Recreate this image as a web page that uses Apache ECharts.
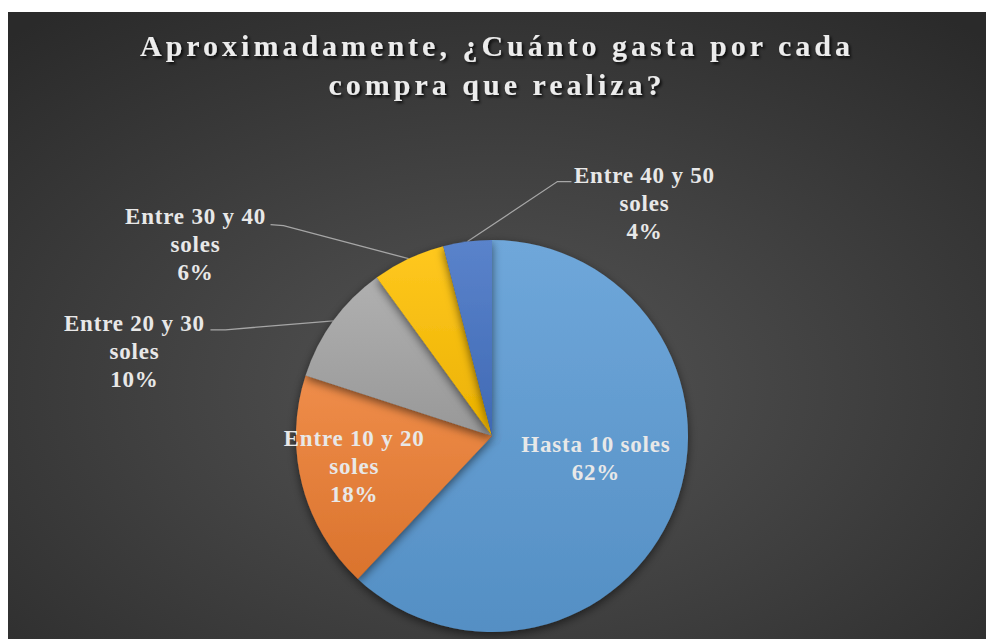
<!DOCTYPE html>
<html>
<head>
<meta charset="utf-8">
<script src="https://cdn.jsdelivr.net/npm/echarts@6/dist/echarts.min.js"></script>
<style>
  html, body { margin: 0; padding: 0; background: #ffffff; width: 986px; height: 639px; overflow: hidden; }
  #chart { position: absolute; left: 8px; top: 12px; width: 978px; height: 627px; }
  /* spaced-out serif title, slightly tracked labels */
  #chart text[style*="30px"] { letter-spacing: 4px; }
  #chart text[style*="23px"] { letter-spacing: 0.8px; }
</style>
</head>
<body>
<div id="chart"></div>
<script>
// ---- data ----
const titleLines = ['Aproximadamente, ¿Cuánto gasta por cada', 'compra que realiza?'];
const categories = ['Hasta 10 soles', 'Entre 10 y 20 soles', 'Entre 20 y 30 soles', 'Entre 30 y 40 soles', 'Entre 40 y 50 soles'];
const shares = [62, 18, 10, 6, 4];

// ---- styling ----
const sliceColors = ['#5B9BD5', '#ED7D31', '#A5A5A5', '#FFC000', '#4472C4'];

// label placement: inside labels are nudged, outside labels sit relative to
// the point where the leader line leaves the slice edge
const labelPlacement = {
  'Hasta 10 soles':      { inside: true, dx: 10, dy: -15 },
  'Entre 10 y 20 soles': { inside: true, dx: -40, dy: 5 },
  'Entre 20 y 30 soles': { label: [-199, 31], bend: [-108, 9], end: [-123, 9] },
  'Entre 30 y 40 soles': { label: [-213, -14], bend: [-125, -33], end: [-138, -34] },
  'Entre 40 y 50 soles': { label: [177, -38], bend: [90, -60], end: [104, -60] }
};

function shade(hex, amt) {
  const n = parseInt(hex.slice(1), 16);
  const ch = [(n >> 16) & 255, (n >> 8) & 255, n & 255].map(function (c) {
    const v = amt >= 0 ? c + (255 - c) * amt : c * (1 + amt);
    return Math.max(0, Math.min(255, Math.round(v)));
  });
  return 'rgb(' + ch.join(',') + ')';
}

function wrapName(name) {
  // two-line category names: break before the final word
  if (name.length <= 14) return name;
  const i = name.lastIndexOf(' ');
  return name.slice(0, i) + '\n' + name.slice(i + 1);
}

const pieData = categories.map(function (name, i) {
  const place = labelPlacement[name];
  const item = {
    name: name,
    value: shares[i],
    itemStyle: {
      color: new echarts.graphic.LinearGradient(0, 0, 0, 1, [
        { offset: 0, color: shade(sliceColors[i], 0.12) },
        { offset: 1, color: shade(sliceColors[i], -0.08) }
      ])
    }
  };
  if (place.inside) {
    item.label = { position: 'inside' };
    item.labelLine = { show: false };
  }
  return item;
});

const chart = echarts.init(document.getElementById('chart'), null, { renderer: 'svg' });

chart.setOption({
  backgroundColor: {
    type: 'radial', x: 0.5, y: 0.6, r: 0.75,
    colorStops: [
      { offset: 0, color: '#555555' },
      { offset: 1, color: '#2a2a2a' }
    ]
  },
  title: {
    text: titleLines.join('\n'),
    left: 'center',
    top: 9,
    textStyle: {
      fontFamily: '"Liberation Serif", "Times New Roman", serif',
      fontWeight: 'bold',
      fontSize: 30,
      lineHeight: 39,
      color: '#ececec',
      textShadowColor: 'rgba(0,0,0,0.8)',
      textShadowBlur: 3,
      textShadowOffsetX: 2,
      textShadowOffsetY: 2
    }
  },
  series: [{
    type: 'pie',
    center: [484, 424],
    radius: 196,
    startAngle: 90,
    clockwise: true,
    avoidLabelOverlap: false,
    percentPrecision: 0,
    animation: false,
    data: pieData,
    itemStyle: {
      shadowBlur: 10,
      shadowColor: 'rgba(0,0,0,0.55)',
      shadowOffsetY: 3
    },
    label: {
      show: true,
      position: 'outside',
      formatter: function (p) { return wrapName(p.name) + '\n' + p.percent + '%'; },
      fontFamily: '"Liberation Serif", "Times New Roman", serif',
      fontWeight: 'bold',
      fontSize: 23,
      lineHeight: 28,
      align: 'center',
      color: '#e8e8e8'
    },
    labelLine: {
      show: true,
      lineStyle: { color: '#a6a6a6', width: 1.3 }
    },
    labelLayout: function (params) {
      const place = labelPlacement[categories[params.dataIndex]];
      if (place.inside) {
        return { dx: place.dx, dy: place.dy };
      }
      const p0 = params.labelLinePoints[0];
      return {
        x: p0[0] + place.label[0],
        y: p0[1] + place.label[1],
        align: 'center',
        verticalAlign: 'middle',
        labelLinePoints: [
          [p0[0], p0[1]],
          [p0[0] + place.bend[0], p0[1] + place.bend[1]],
          [p0[0] + place.end[0], p0[1] + place.end[1]]
        ]
      };
    }
  }]
});
</script>
</body>
</html>
